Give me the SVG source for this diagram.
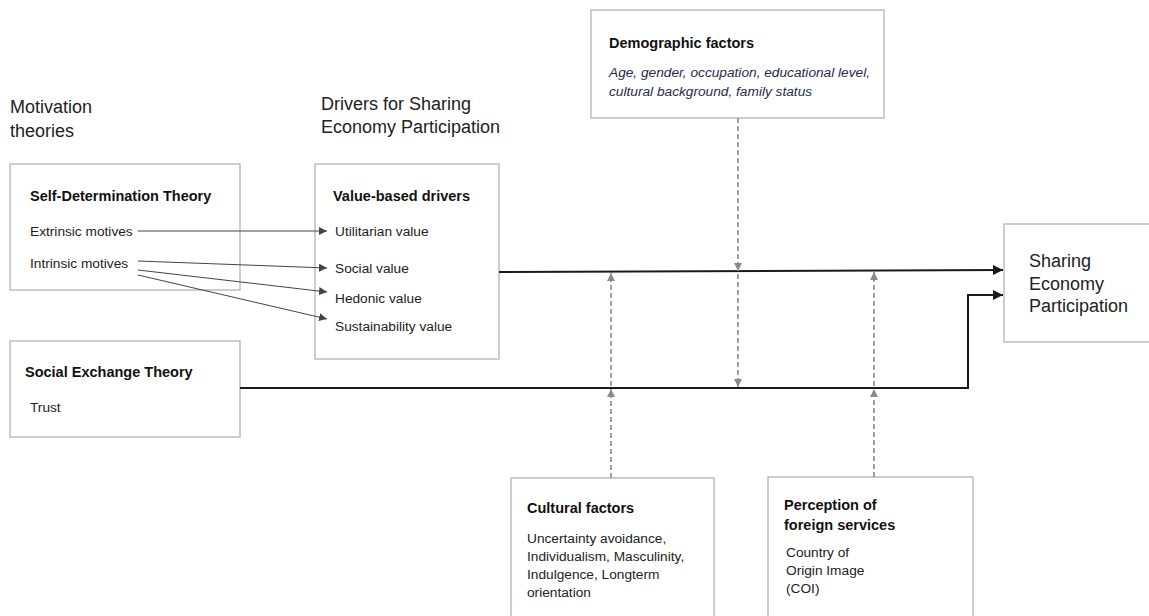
<svg xmlns="http://www.w3.org/2000/svg" width="1149" height="616" viewBox="0 0 1149 616">
<style>
text{font-family:"Liberation Sans",Arial,sans-serif;fill:#1a1a1a}
.h{font-size:18px;fill:#222}
.b{font-size:14.5px;font-weight:bold;fill:#111}
.r{font-size:13.7px;fill:#222}
.i{font-size:13.7px;font-style:italic;fill:#1f2b4d}
.s{font-size:18px;fill:#222}
.box{fill:#fff;stroke:#bdbdbd;stroke-width:1.5}
.main{fill:none;stroke:#1a1a1a;stroke-width:2}
.thin{fill:none;stroke:#444;stroke-width:1}
.dash{fill:none;stroke:#8a8a8a;stroke-width:1.6;stroke-dasharray:5 3}
</style>
<defs>
<marker id="at" viewBox="0 0 10 10" refX="10" refY="5" markerWidth="8" markerHeight="8" markerUnits="userSpaceOnUse" orient="auto"><path d="M0,0 L10,5 L0,10 z" fill="#444"/></marker>
<marker id="ag" viewBox="0 0 10 10" refX="10" refY="5" markerWidth="8" markerHeight="8" markerUnits="userSpaceOnUse" orient="auto"><path d="M0,0 L10,5 L0,10 z" fill="#8a8a8a"/></marker>
<marker id="am" viewBox="0 0 10 10" refX="10" refY="5" markerWidth="10" markerHeight="10" markerUnits="userSpaceOnUse" orient="auto"><path d="M0,0 L10,5 L0,10 z" fill="#1a1a1a"/></marker>
</defs>

<g id="headings">
<text class="h" x="10" y="113">Motivation</text>
<text class="h" x="10" y="137">theories</text>
<text class="h" x="321" y="110">Drivers for Sharing</text>
<text class="h" x="321" y="133">Economy Participation</text>
</g>

<g id="sdt">
<rect class="box" x="10" y="164" width="230" height="126"/>
<text class="b" x="30" y="201">Self-Determination Theory</text>
<text class="r" x="30" y="236">Extrinsic motives</text>
<text class="r" x="30" y="268">Intrinsic motives</text>
</g>

<g id="set">
<rect class="box" x="10" y="341" width="230" height="96"/>
<text class="b" x="25" y="377">Social Exchange Theory</text>
<text class="r" x="30" y="412">Trust</text>
</g>

<g id="value">
<rect class="box" x="315" y="164" width="184" height="195"/>
<text class="b" x="333" y="201">Value-based drivers</text>
<text class="r" x="335" y="236">Utilitarian value</text>
<text class="r" x="335" y="273">Social value</text>
<text class="r" x="335" y="303">Hedonic value</text>
<text class="r" x="335" y="331">Sustainability value</text>
</g>

<g id="demographic">
<rect class="box" x="591" y="10" width="293" height="108"/>
<text class="b" x="609" y="48">Demographic factors</text>
<text class="i" x="609" y="77">Age, gender, occupation, educational level,</text>
<text class="i" x="609" y="96">cultural background, family status</text>
</g>

<g id="sharing">
<rect class="box" x="1004" y="224" width="160" height="118"/>
<text class="s" x="1029" y="267">Sharing</text>
<text class="s" x="1029" y="290">Economy</text>
<text class="s" x="1029" y="312">Participation</text>
</g>

<g id="cultural">
<rect class="box" x="511" y="478" width="203" height="150"/>
<text class="b" x="527" y="513">Cultural factors</text>
<text class="r" x="527" y="543">Uncertainty avoidance,</text>
<text class="r" x="527" y="561">Individualism, Masculinity,</text>
<text class="r" x="527" y="579">Indulgence, Longterm</text>
<text class="r" x="527" y="597">orientation</text>
</g>

<g id="perception">
<rect class="box" x="768" y="477" width="205" height="150"/>
<text class="b" x="784" y="510">Perception of</text>
<text class="b" x="784" y="530">foreign services</text>
<text class="r" x="786" y="557">Country of</text>
<text class="r" x="786" y="575">Origin Image</text>
<text class="r" x="786" y="593">(COI)</text>
</g>

<g id="connectors">
<path class="thin" d="M138,231 L327,231" marker-end="url(#at)"/>
<path class="thin" d="M138,261 L327,268" marker-end="url(#at)"/>
<path class="thin" d="M138,270 L327,292" marker-end="url(#at)"/>
<path class="thin" d="M138,275 L327,319" marker-end="url(#at)"/>
<path class="main" d="M499,272 L1003,270" marker-end="url(#am)"/>
<path class="main" d="M240,388 L968,388 L968,295 L1003,295" marker-end="url(#am)"/>
<path class="dash" d="M738,118 L738,271" marker-end="url(#ag)"/>
<path class="dash" d="M738,274 L738,387" marker-end="url(#ag)"/>
<path class="dash" d="M611,478 L611,389" marker-end="url(#ag)"/>
<path class="dash" d="M611,386 L611,273" marker-end="url(#ag)"/>
<path class="dash" d="M874,477 L874,389" marker-end="url(#ag)"/>
<path class="dash" d="M874,386 L874,272" marker-end="url(#ag)"/>
</g>
</svg>
